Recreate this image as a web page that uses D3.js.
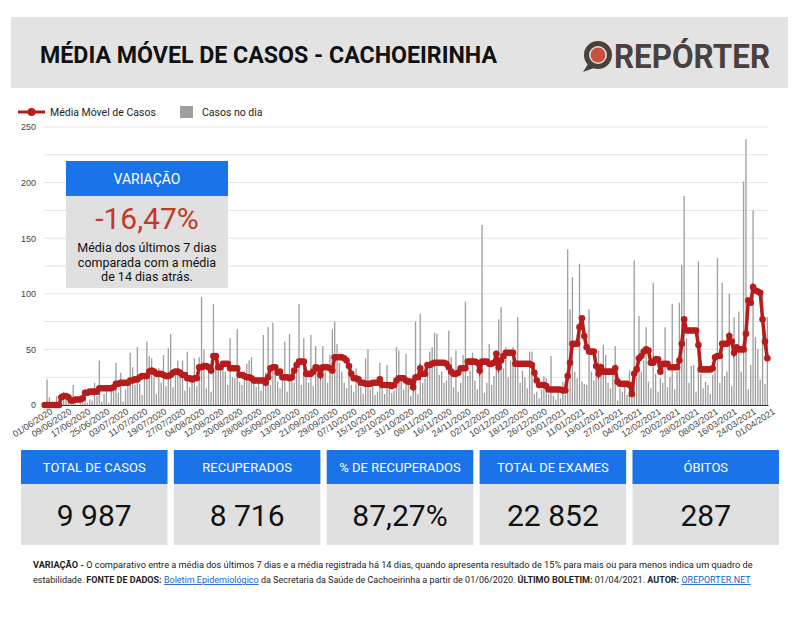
<!DOCTYPE html>
<html>
<head>
<meta charset="utf-8">
<script src="https://cdn.jsdelivr.net/npm/d3@7"></script>
<style>
  body { margin: 0; background: #fff; }
  svg { display: block; font-family: Roboto, 'Noto Sans', sans-serif; }
  .axis path, .axis line { stroke: #333; }
  .axis text { fill: #444; font-size: 9px; }
</style>
</head>
<body>
<svg id="chart" width="800" height="618"></svg>
<script>
// daily cases, 01/06/2020 .. 01/04/2021
const casos = [
  0, 23, 7, 0, 0, 8, 3, 0, 12, 5,
  2, 4, 18, 1, 0, 3, 6, 14, 2, 5,
  4, 20, 8, 40, 3, 10, 13, 2, 15, 20,
  38, 11, 29, 3, 14, 20, 47, 34, 18, 52,
  19, 9, 26, 57, 44, 42, 25, 10, 33, 20,
  45, 17, 51, 64, 16, 27, 40, 28, 40, 13,
  48, 16, 24, 42, 17, 43, 97, 50, 15, 30,
  12, 91, 40, 42, 34, 39, 30, 18, 60, 25,
  24, 68, 21, 18, 30, 37, 40, 43, 22, 16,
  20, 13, 63, 29, 70, 18, 74, 34, 21, 15,
  27, 57, 12, 64, 30, 20, 33, 91, 18, 60,
  25, 20, 63, 17, 53, 37, 24, 53, 30, 20,
  45, 68, 75, 55, 38, 30, 20, 15, 35, 18,
  12, 33, 20, 16, 10, 42, 50, 14, 18, 9,
  12, 38, 16, 10, 36, 19, 11, 13, 52, 49,
  21, 14, 46, 20, 8, 12, 75, 10, 82, 20,
  24, 30, 48, 52, 65, 64, 27, 30, 20, 22,
  67, 43, 16, 49, 12, 20, 45, 93, 26, 31,
  47, 22, 14, 30, 162, 11, 20, 55, 18, 26,
  49, 77, 88, 33, 52, 25, 40, 52, 34, 79,
  20, 31, 25, 15, 48, 48, 10, 12, 6, 14,
  26, 24, 10, 44, 8, 5, 12, 6, 21, 9,
  140, 86, 115, 30, 24, 127, 21, 19, 18, 86,
  30, 22, 43, 49, 28, 54, 45, 20, 15, 31,
  53, 4, 15, 12, 20, 9, 31, 18, 130, 25,
  80, 30, 40, 70, 21, 15, 110, 28, 12, 24,
  20, 70, 16, 25, 91, 14, 30, 92, 126, 188,
  60, 20, 35, 36, 12, 129, 28, 15, 21, 18,
  10, 27, 31, 132, 20, 110, 26, 30, 100, 17,
  79, 45, 84, 30, 201, 239, 14, 36, 175, 61,
  50, 23, 100, 19, 79
];

// média móvel
const mediaMovel = [
  0, 0, 0, 0, 0, 0, 0, 7, 8, 8,
  7, 4, 4, 5, 5, 5, 6, 11, 11, 12,
  12, 12, 12, 15, 15, 15, 15, 15, 15, 16,
  19, 19, 20, 20, 20, 20, 22, 22, 23, 23,
  25, 26, 26, 26, 30, 31, 30, 28, 28, 28,
  27, 26, 26, 27, 29, 30, 30, 29, 27, 27,
  24, 24, 23, 24, 24, 34, 34, 35, 35, 34,
  31, 44, 44, 34, 34, 37, 37, 37, 33, 33,
  33, 33, 27, 27, 26, 25, 25, 24, 22, 22,
  22, 22, 22, 20, 25, 33, 34, 34, 29, 30,
  25, 25, 25, 24, 25, 31, 36, 39, 39, 39,
  28, 28, 28, 30, 34, 33, 27, 34, 34, 34,
  33, 31, 43, 43, 43, 43, 42, 40, 35, 28,
  24, 24, 23, 20, 20, 19, 19, 19, 20, 20,
  20, 23, 18, 18, 18, 18, 17, 18, 22, 24,
  24, 24, 22, 21, 21, 16, 25, 25, 33, 28,
  28, 36, 36, 37, 38, 38, 38, 38, 38, 37,
  34, 30, 28, 28, 29, 33, 33, 33, 39, 39,
  39, 39, 38, 31, 39, 39, 39, 37, 37, 38,
  46, 34, 40, 44, 47, 47, 47, 47, 37, 37,
  37, 37, 37, 37, 37, 36, 29, 22, 18, 18,
  18, 17, 14, 14, 14, 14, 14, 14, 13, 13,
  26, 38, 55, 55, 55, 70, 78, 62, 52, 48,
  48, 48, 35, 28, 34, 30, 30, 30, 30, 30,
  33, 21, 19, 19, 19, 19, 18, 10, 28, 32,
  42, 44, 48, 50, 49, 38, 38, 41, 41, 30,
  37, 37, 37, 34, 34, 34, 34, 40, 55, 77,
  67, 67, 67, 67, 67, 54, 32, 32, 32, 32,
  32, 33, 43, 44, 44, 55, 55, 55, 62, 57,
  47, 52, 50, 50, 50, 64, 94, 92, 106, 103,
  102, 101, 77, 57, 42
];

const tickLabels = [
  '01/06/2020', '09/06/2020', '17/06/2020', '25/06/2020', '03/07/2020', '11/07/2020',
  '19/07/2020', '27/07/2020', '04/08/2020', '12/08/2020', '20/08/2020', '28/08/2020',
  '05/09/2020', '13/09/2020', '21/09/2020', '29/09/2020', '07/10/2020', '15/10/2020',
  '23/10/2020', '31/10/2020', '08/11/2020', '16/11/2020', '24/11/2020', '02/12/2020',
  '10/12/2020', '18/12/2020', '26/12/2020', '03/01/2021', '11/01/2021', '19/01/2021',
  '27/01/2021', '04/02/2021', '12/02/2021', '20/02/2021', '28/02/2021', '08/03/2021',
  '16/03/2021', '24/03/2021', '01/04/2021'
];
const yTicks = [0, 50, 100, 150, 200, 250];

const cards = ['TOTAL DE CASOS', 'RECUPERADOS', '% DE RECUPERADOS', 'TOTAL DE EXAMES', 'ÓBITOS'];
const cardValues = ['9 987', '8 716', '87,27%', '22 852', '287'];

const variacao = '-16,47%';

function drawChart() {
  const svg = d3.select('#chart');
  const blue = '#1a73e8', grey = '#e0e0e0', red = '#b71c1c';

  const margin = {top: 127, right: 32, bottom: 213, left: 44};
  const width = 800, height = 618;

  const parse = d3.timeParse('%d/%m/%Y');
  const dates = d3.timeDay.range(parse('01/06/2020'), d3.timeDay.offset(parse('01/04/2021'), 1));

  // header
  svg.append('rect')
    .attr('x', 11).attr('y', 17).attr('width', 777).attr('height', 71)
    .attr('fill', '#e3e3e3');
  svg.append('text')
    .attr('x', 40).attr('y', 63)
    .attr('font-size', 23).attr('font-weight', 700).attr('fill', '#111')
    .attr('textLength', 457).attr('lengthAdjust', 'spacingAndGlyphs')
    .text('MÉDIA MÓVEL DE CASOS - CACHOEIRINHA');

  // logo
  const logo = svg.append('g');
  logo.append('path')
    .attr('d', 'M588,64 L583,72 L594,68 Z')
    .attr('fill', '#4a403d');
  logo.append('circle').attr('cx', 598).attr('cy', 55).attr('r', 11.5)
    .attr('fill', 'none').attr('stroke', '#4a403d').attr('stroke-width', 5);
  logo.append('circle').attr('cx', 598).attr('cy', 55).attr('r', 7.5)
    .attr('fill', '#c9503c');
  logo.append('text')
    .attr('x', 614).attr('y', 68)
    .attr('font-size', 34).attr('font-weight', 700).attr('fill', '#4a403d')
    .attr('textLength', 156).attr('lengthAdjust', 'spacingAndGlyphs')
    .text('REPÓRTER');

  // scales
  const x = d3.scaleBand()
    .domain(dates)
    .range([margin.left, width - margin.right])
    .paddingInner(0.45);

  const y = d3.scaleLinear()
    .domain([0, 250])
    .range([height - margin.bottom, margin.top]);

  // gridlines
  svg.append('g')
    .selectAll('line')
    .data(d3.range(0, 251, 25))
    .join('line')
      .attr('x1', margin.left).attr('x2', width - margin.right)
      .attr('y1', d => y(d)).attr('y2', d => y(d))
      .attr('stroke', '#e4e4e4');

  svg.append('g')
    .attr('transform', `translate(${margin.left}, 0)`)
    .attr('class', 'axis')
    .call(d3.axisLeft(y).tickValues(yTicks).tickSize(0).tickPadding(8))
    .call(g => g.select('.domain').remove());

  // bars
  svg.append('g')
    .selectAll('rect')
    .data(casos)
    .join('rect')
      .attr('x', (d, i) => x(dates[i]))
      .attr('width', x.bandwidth())
      .attr('y', d => y(d))
      .attr('height', d => y(0) - y(d))
      .attr('fill', '#9e9e9e');

  // x axis
  const tickDates = tickLabels.map(parse);
  svg.append('g')
    .attr('transform', `translate(0, ${y(0)})`)
    .attr('class', 'axis')
    .call(d3.axisBottom(x).tickValues(tickDates).tickSize(0).tickPadding(6)
      .tickFormat((d, i) => tickLabels[i]))
    .call(g => g.select('.domain').attr('stroke', '#444'))
    .selectAll('text')
      .attr('text-anchor', 'end')
      .attr('dx', '0.3em')
      .attr('dy', '0.6em')
      .attr('transform', 'rotate(-33)');

  // moving average
  const line = d3.line()
    .x((d, i) => x(dates[i]) + x.bandwidth() / 2)
    .y(d => y(d));

  svg.append('path')
    .datum(mediaMovel)
    .attr('d', line)
    .attr('fill', 'none')
    .attr('stroke', red)
    .attr('stroke-width', 3.5);

  svg.append('g')
    .selectAll('circle')
    .data(mediaMovel)
    .join('circle')
      .attr('cx', (d, i) => x(dates[i]) + x.bandwidth() / 2)
      .attr('cy', d => y(d))
      .attr('r', 3.3)
      .attr('fill', red);

  // legend
  const legend = svg.append('g').attr('font-size', 10.5).attr('fill', '#222');
  legend.append('line').attr('x1', 18).attr('x2', 45).attr('y1', 112).attr('y2', 112)
    .attr('stroke', red).attr('stroke-width', 3);
  legend.append('circle').attr('cx', 31.5).attr('cy', 112).attr('r', 4).attr('fill', red);
  legend.append('text').attr('x', 50).attr('y', 116).text('Média Móvel de Casos');
  legend.append('rect').attr('x', 180).attr('y', 106).attr('width', 13).attr('height', 12)
    .attr('fill', '#9e9e9e');
  legend.append('text').attr('x', 202).attr('y', 116).text('Casos no dia');

  // variação box
  const vb = svg.append('g').attr('text-anchor', 'middle');
  vb.append('rect').attr('x', 66).attr('y', 161).attr('width', 162).attr('height', 127).attr('fill', grey);
  vb.append('rect').attr('x', 66).attr('y', 161).attr('width', 162).attr('height', 35).attr('fill', blue);
  vb.append('text').attr('x', 147).attr('y', 184).attr('fill', '#fff').attr('font-size', 14)
    .text('VARIAÇÃO');
  vb.append('text').attr('x', 147).attr('y', 229).attr('fill', '#c0392b').attr('font-size', 30)
    .text(variacao);
  ['Média dos últimos 7 dias', 'comparada com a média', 'de 14 dias atrás.'].forEach((t, i) => {
    vb.append('text').attr('x', 147).attr('y', 252 + i * 14.5)
      .attr('font-size', 12.5).attr('fill', '#111').text(t);
  });

  // cards
  const cx = d3.scaleBand().domain(cards).range([21, 779]).paddingInner(0.042);
  const card = svg.append('g').selectAll('g')
    .data(cards)
    .join('g')
      .attr('transform', d => `translate(${cx(d)}, 450)`)
      .attr('text-anchor', 'middle');
  card.append('rect').attr('width', cx.bandwidth()).attr('height', 95).attr('fill', grey);
  card.append('rect').attr('width', cx.bandwidth()).attr('height', 34).attr('fill', blue);
  card.append('text').attr('x', cx.bandwidth() / 2).attr('y', 22)
    .attr('fill', '#fff').attr('font-size', 13).text(d => d);
  card.append('text').attr('x', cx.bandwidth() / 2).attr('y', 76)
    .attr('fill', '#111').attr('font-size', 30).text((d, i) => cardValues[i]);

  // footer
  const f1 = svg.append('text').attr('x', 33).attr('y', 568).attr('font-size', 9.2).attr('fill', '#222');
  f1.append('tspan').attr('font-weight', 700).text('VARIAÇÃO - ');
  f1.append('tspan').text('O comparativo entre a média dos últimos 7 dias e a média registrada há 14 dias, quando apresenta resultado de 15% para mais ou para menos indica um quadro de');

  const f2 = svg.append('text').attr('x', 33).attr('y', 583).attr('font-size', 9.0).attr('fill', '#222');
  f2.append('tspan').text('estabilidade. ');
  f2.append('tspan').attr('font-weight', 700).text('FONTE DE DADOS: ');
  f2.append('tspan').attr('fill', '#1a5fd0').attr('text-decoration', 'underline').text('Boletim Epidemiológico');
  f2.append('tspan').text(' da Secretaria da Saúde de Cachoeirinha a partir de 01/06/2020. ');
  f2.append('tspan').attr('font-weight', 700).text('ÚLTIMO BOLETIM: ');
  f2.append('tspan').text('01/04/2021. ');
  f2.append('tspan').attr('font-weight', 700).text('AUTOR: ');
  f2.append('tspan').attr('fill', '#1a5fd0').attr('text-decoration', 'underline').text('OREPORTER.NET');
}

drawChart();
</script>
</body>
</html>
